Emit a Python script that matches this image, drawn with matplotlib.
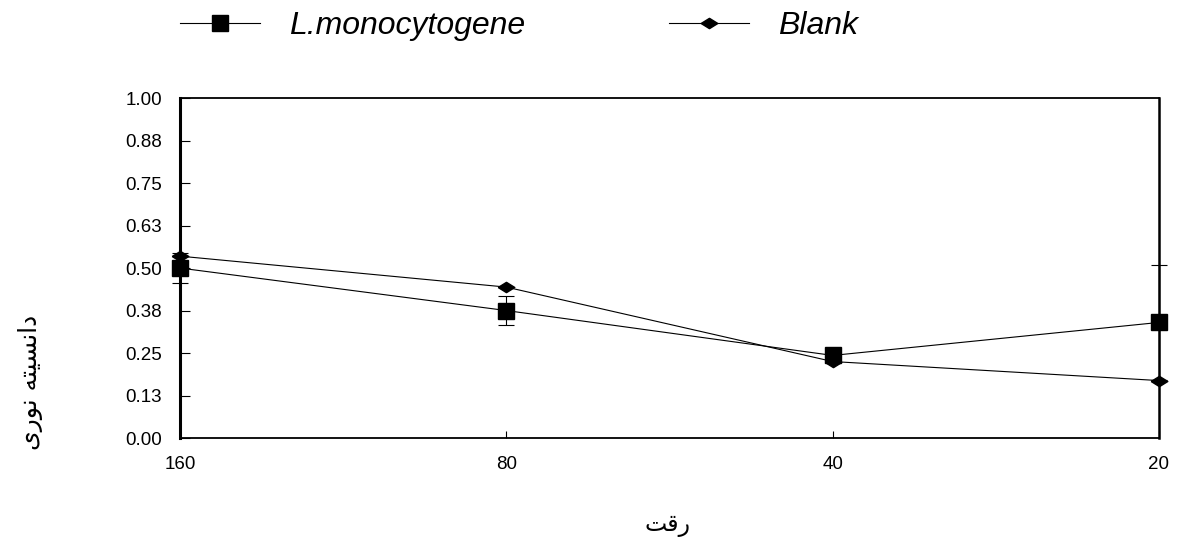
import numpy as np
import matplotlib
matplotlib.use('Agg')
import matplotlib.pyplot as plt
from matplotlib.lines import Line2D

# داده ها
dilution = ['160', '80', '40', '20']
listeria = [0.50, 0.375, 0.243, 0.34]
listeria_err = [0.045, 0.042, 0.0, 0.17]
blank = [0.535, 0.444, 0.225, 0.169]
ytick_vals = [0, 0.125, 0.25, 0.375, 0.5, 0.625, 0.75, 0.875, 1.0]
ytick_labels = ['0.00', '0.13', '0.25', '0.38', '0.50', '0.63', '0.75', '0.88', '1.00']

# برچسب ها (حروف عربی به ترتیب نمایشی)
ylab = '\uFEEF\uFEAD\uFEEE\uFEE7 \uFEEA\uFE98\uFEF4\uFEB4\uFEE7\uFE8D\uFEA9'  # دانسیته نوری
xlab = '\uFE96\uFED7\uFEAD'  # رقت

plt.rcParams['font.family'] = ['Liberation Sans', 'DejaVu Sans']

# لوزی پهن
diamond = [(-1, 0), (0, 0.62), (1, 0), (0, -0.62), (-1, 0)]

fig = plt.figure(figsize=(11.79, 5.45), dpi=100)
ax = fig.add_axes([0.1527, 0.1963, 0.8303, 0.6237])

x = np.arange(len(dilution))
ax.plot(x, blank, color='black', lw=0.8, marker=diamond, ms=12,
        clip_on=False, zorder=3)
ax.errorbar(x, listeria, yerr=listeria_err, color='black', lw=0.8,
            marker='s', ms=11, capsize=6, elinewidth=0.8, capthick=0.8,
            clip_on=False, zorder=4)

ax.set_xlim(0, 3)
ax.set_ylim(0, 1)
ax.set_xticks(x)
ax.set_xticklabels(dilution)
ax.set_yticks(ytick_vals)
ax.set_yticklabels(ytick_labels)
ax.tick_params(axis='y', direction='in', length=7, width=0.8, pad=13, labelsize=13.5)
ax.tick_params(axis='x', direction='in', length=5, width=0.8, pad=13, labelsize=13.5)

ax.spines['left'].set_linewidth(2.2)
ax.spines['right'].set_linewidth(1.8)
ax.spines['top'].set_linewidth(1.3)
ax.spines['bottom'].set_linewidth(1.3)

fig.text(0.026, 0.299, ylab, rotation=90, ha='center', va='center',
         fontsize=18, family=['DejaVu Sans'])
fig.text(0.566, 0.036, xlab, ha='center', va='center',
         fontsize=17, family=['DejaVu Sans'])

# راهنما
h1 = Line2D([], [], color='black', lw=0.8, marker='s', ms=11)
h2 = Line2D([], [], color='black', lw=0.8, marker=diamond, ms=12)
for h, lab, x0 in [(h1, 'L.monocytogene', 180 / 1179), (h2, 'Blank', 669 / 1179)]:
    fig.legend([h], [lab], loc='center left', bbox_to_anchor=(x0, 0.952),
               frameon=False, borderpad=0, borderaxespad=0,
               handlelength=2.5, handletextpad=0.9,
               prop={'size': 23, 'style': 'italic'})

fig.savefig('out.png', dpi=100)
